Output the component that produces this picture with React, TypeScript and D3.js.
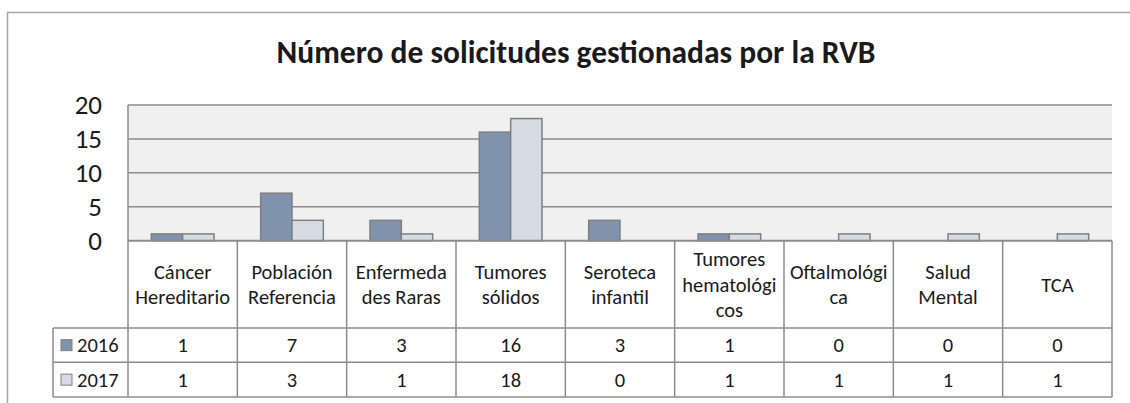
import React from "react";
import * as d3 from "d3";

const TITLE = "Número de solicitudes gestionadas por la RVB";
const categories = [
  "Cáncer Hereditario",
  "Población Referencia",
  "Enfermedades Raras",
  "Tumores sólidos",
  "Seroteca infantil",
  "Tumores hematológicos",
  "Oftalmológica",
  "Salud Mental",
  "TCA",
];
const categoryLines = [
  ["Cáncer", "Hereditario"],
  ["Población", "Referencia"],
  ["Enfermeda", "des Raras"],
  ["Tumores", "sólidos"],
  ["Seroteca", "infantil"],
  ["Tumores", "hematológi", "cos"],
  ["Oftalmológi", "ca"],
  ["Salud", "Mental"],
  ["TCA"],
];
const seriesNames = ["2016", "2017"];
const values2016 = [1, 7, 3, 16, 3, 1, 0, 0, 0];
const values2017 = [1, 3, 1, 18, 0, 1, 1, 1, 1];
const yTicks = [0, 5, 10, 15, 20];

const seriesValues = [values2016, values2017];
const seriesColors = ["#8093ad", "#d6dce6"];

const W = 1130;
const H = 403;
const plotLeft = 128;
const plotRight = 1112;
const plotTop = 105;
const plotBottom = 240.7;
const legendLeft = 53;
const headerBottom = 328;
const row1Bottom = 362.3;
const row2Bottom = 397;
const FONT = "Carlito, Calibri, Lato, sans-serif";
const GRID = "#8c8c8c";
const TEXT = "#1a1a1a";

export default function App() {
  const x = d3.scaleBand<string>().domain(categories).range([plotLeft, plotRight]).paddingInner(0).paddingOuter(0);
  const inner = d3.scaleBand<string>().domain(seriesNames).range([0, x.bandwidth()]).paddingInner(0).paddingOuter(0.745);
  const y = d3.scaleLinear().domain([0, 20]).range([plotBottom, plotTop]);
  const lineH = 25.5;
  const tableFs = 20.5;

  return (
    <svg width={W} height={H} style={{ position: "absolute", left: 0, top: 0, background: "#fff" }} fontFamily={FONT}>
      {/* outer frame */}
      <path d={`M7.5,${H} V12.5 H${W}`} fill="none" stroke="#a6a6a6" strokeWidth={1.5} />
      <text x={576} y={63} textAnchor="middle" fontSize={31.5} fontWeight="bold" fill={TEXT}>{TITLE}</text>

      {/* plot area */}
      <rect x={plotLeft} y={plotTop} width={plotRight - plotLeft} height={plotBottom - plotTop} fill="#eff0ef" />
      <line x1={plotLeft} x2={plotLeft} y1={plotTop} y2={plotBottom} stroke={GRID} strokeWidth={1.5} />
      {yTicks.filter((t) => t > 0).map((t) => (
        <line key={t} x1={plotLeft} x2={plotRight} y1={y(t)} y2={y(t)} stroke={GRID} strokeWidth={1.5} />
      ))}
      {yTicks.map((t) => (
        <text key={t} x={102} y={y(t)} dy="0.35em" textAnchor="end" fontSize={27} fill={TEXT}>{t}</text>
      ))}

      {/* bars */}
      {seriesValues.map((vals, si) =>
        vals.map((v, ci) =>
          v > 0 ? (
            <rect
              key={`${si}-${ci}`}
              x={(x(categories[ci]) as number) + (inner(seriesNames[si]) as number)}
              y={y(v)}
              width={inner.bandwidth()}
              height={plotBottom - y(v)}
              fill={seriesColors[si]}
              stroke="#7f7f7f"
              strokeWidth={1.5}
            />
          ) : null
        )
      )}
      <line x1={plotLeft} x2={plotRight} y1={plotBottom} y2={plotBottom} stroke={GRID} strokeWidth={2} />

      {/* data table */}
      {categories.map((c) => (
        <line key={c} x1={x(c) as number} x2={x(c) as number} y1={plotBottom} y2={row2Bottom} stroke={GRID} strokeWidth={1.5} />
      ))}
      <line x1={plotRight} x2={plotRight} y1={plotBottom} y2={row2Bottom} stroke={GRID} strokeWidth={1.5} />
      <line x1={legendLeft} x2={legendLeft} y1={headerBottom} y2={row2Bottom} stroke={GRID} strokeWidth={1.5} />
      {[headerBottom, row1Bottom, row2Bottom].map((yy) => (
        <line key={yy} x1={legendLeft} x2={plotRight} y1={yy} y2={yy} stroke={GRID} strokeWidth={1.5} />
      ))}

      {categoryLines.map((lines, ci) => {
        const cx = (x(categories[ci]) as number) + x.bandwidth() / 2;
        const mid = (plotBottom + headerBottom) / 2;
        const first = mid - ((lines.length - 1) * lineH) / 2;
        return (
          <text key={ci} textAnchor="middle" fontSize={tableFs} fill={TEXT}>
            {lines.map((l, li) => (
              <tspan key={li} x={cx} y={first + li * lineH} dy="0.35em">{l}</tspan>
            ))}
          </text>
        );
      })}

      {seriesValues.map((vals, si) => {
        const top = si === 0 ? headerBottom : row1Bottom;
        const bottom = si === 0 ? row1Bottom : row2Bottom;
        const cy = (top + bottom) / 2;
        return (
          <g key={si}>
            <rect x={61} y={cy - 5.5} width={11} height={11} fill={seriesColors[si]} stroke="#7f7f7f" strokeWidth={1} />
            <text x={77} y={cy} dy="0.35em" fontSize={tableFs} fill={TEXT}>{seriesNames[si]}</text>
            {vals.map((v, ci) => (
              <text key={ci} x={(x(categories[ci]) as number) + x.bandwidth() / 2} y={cy} dy="0.35em" textAnchor="middle" fontSize={tableFs} fill={TEXT}>{v}</text>
            ))}
          </g>
        );
      })}
    </svg>
  );
}
